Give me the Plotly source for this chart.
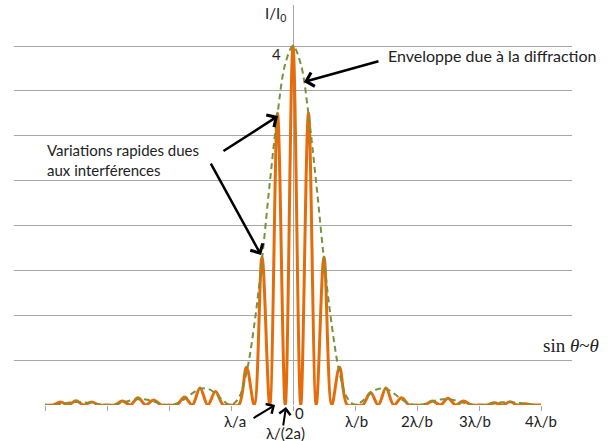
import plotly.graph_objects as go

# positions in units of lambda/b
x_pts = [i / 8 for i in range(-32, 33)]

# orange curve (interference x diffraction)
# alternating: zero at odd eighths, peaks at quarters
intensity = [
    0.0, 0.0, 0.033, 0.0, 0.048, 0.0, 0.033, 0.0,      # -4 .. -3.125
    0.0, 0.0, 0.045, 0.0, 0.08, 0.0, 0.056, 0.0,       # -3 .. -2.125
    0.0, 0.0, 0.09, 0.0, 0.19, 0.0, 0.15, 0.0,         # -2 .. -1.125
    0.0, 0.0, 0.42, 0.0, 1.65, 0.0, 3.25, 0.0,         # -1 .. -0.125
    4.0,                                               # 0
    0.0, 3.25, 0.0, 1.65, 0.0, 0.42, 0.0, 0.0,         # 0.125 .. 1
    0.0, 0.14, 0.0, 0.19, 0.0, 0.08, 0.0, 0.0,         # 1.125 .. 2
    0.0, 0.045, 0.0, 0.075, 0.0, 0.045, 0.0, 0.0,      # 2.125 .. 3
    0.0, 0.025, 0.0, 0.035, 0.0, 0.015, 0.0, 0.0,      # 3.125 .. 4
]

# green dashed envelope
envelope = [
    0.0, 0.004, 0.014, 0.026, 0.033, 0.030, 0.019, 0.006,
    0.0, 0.007, 0.026, 0.050, 0.065, 0.061, 0.040, 0.012,
    0.0, 0.017, 0.066, 0.13, 0.18, 0.18, 0.13, 0.046,
    0.0, 0.08, 0.36, 0.89, 1.62, 2.47, 3.24, 3.80,
    4.0,
    3.80, 3.24, 2.47, 1.62, 0.89, 0.36, 0.08, 0.0,
    0.046, 0.13, 0.18, 0.18, 0.13, 0.066, 0.017, 0.0,
    0.012, 0.040, 0.061, 0.065, 0.050, 0.026, 0.007, 0.0,
    0.006, 0.019, 0.030, 0.033, 0.026, 0.014, 0.004, 0.0,
]

tick_vals = [-4, -3, -2, -1, 0, 1, 2, 3, 4]
bottom_labels = ["λ/b", "2λ/b", "3λ/b", "4λ/b"]
bottom_label_x = [1.02, 2.0, 2.94, 4.0]

ORANGE = "#E46C0A"
GREEN = "#77933C"
GRID = "#A6A6A6"
FONT = "Lato"

fig = go.Figure()
fig.add_trace(go.Scatter(x=x_pts, y=intensity, mode="lines",
                         line=dict(color=ORANGE, width=3, shape="spline", smoothing=1.0),
                         hoverinfo="skip"))
fig.add_trace(go.Scatter(x=x_pts, y=envelope, mode="lines",
                         line=dict(color=GREEN, width=2, dash="6px,4px", shape="spline", smoothing=1.0),
                         hoverinfo="skip"))

ann = []
def txt(x, y, t, size=15, xanchor="center", family=FONT, yref="y"):
    ann.append(dict(x=x, y=y, xref="x", yref=yref, text=t, showarrow=False,
                    xanchor=xanchor, yanchor="middle", align="left",
                    font=dict(family=family, size=size, color="#222222")))

txt(-0.29, 4.357, "I/I<sub>0</sub>")
txt(-0.274, 3.91, "4")
# labels below the axis (paper-referenced so they are not hidden)
txt(0.097, -0.02, "0", yref="paper")
txt(-0.935, -0.04, "λ/a", yref="paper")
txt(-0.113, -0.07, "λ/(2a)", yref="paper")
for lx, lt in zip(bottom_label_x, bottom_labels):
    txt(lx, -0.04, lt, yref="paper")
txt(4.484, 0.668, "sin <i>θ</i>~<i>θ</i>", size=19, xanchor="center", family="Liberation Serif")
txt(1.5, 3.889, "Enveloppe due à la diffraction", size=16, xanchor="left")
txt(-4.0, 2.73, "Variations rapides dues<br>aux interférences", xanchor="left")

def arrow(x, y, ax, ay, w=2.5, yref="y"):
    ann.append(dict(x=x, y=y, xref="x", yref=yref, ax=ax, ay=ay, text="",
                    showarrow=True, arrowhead=4, arrowsize=1.1, arrowwidth=w,
                    arrowcolor="black", standoff=0, startstandoff=0))

arrow(0.177, 3.60, 76, -21)
arrow(-0.242, 3.22, -56, 36)
arrow(-0.516, 1.671, -51, -93)
arrow(-0.29, 0.0, -23, 14, w=2, yref="paper")
arrow(-0.113, -0.005, -3, 20, w=2, yref="paper")

fig.update_layout(
    width=611, height=441,
    margin=dict(l=14, r=39, t=5, b=36),
    paper_bgcolor="white", plot_bgcolor="white",
    showlegend=False,
    annotations=ann,
    xaxis=dict(range=[-4.5, 4.5], showgrid=False, zeroline=True, zerolinecolor=GRID,
               zerolinewidth=1.3, tickvals=tick_vals, ticks="outside", ticklen=5,
               tickcolor=GRID, tickwidth=1.3, showticklabels=False, showline=False,
               fixedrange=True),
    yaxis=dict(range=[0, 4.457], dtick=0.5, tick0=0, showgrid=True, gridcolor=GRID,
               gridwidth=1.3, zeroline=False, showticklabels=False, showline=False,
               fixedrange=True),
)

fig.write_html("out.html", config={"displayModeBar": False},
               post_script="document.body.style.margin='0';document.body.style.overflow='hidden';")
